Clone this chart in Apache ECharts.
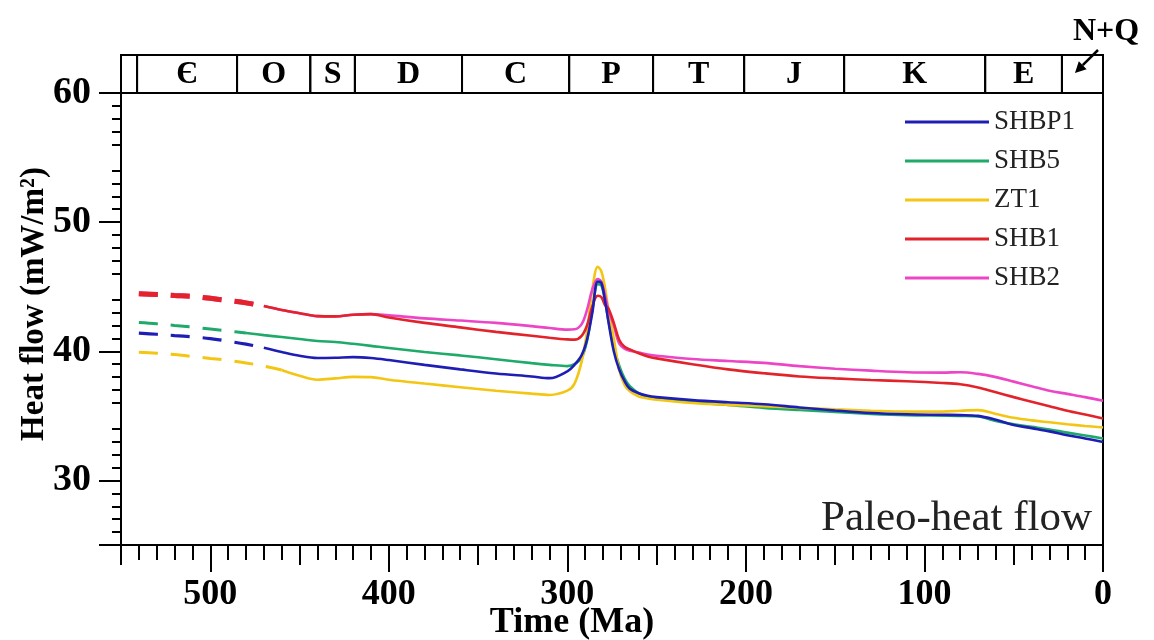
<!DOCTYPE html>
<html><head><meta charset="utf-8">
<script src="https://cdn.jsdelivr.net/npm/echarts@6/dist/echarts.min.js"></script>
<style>html,body{margin:0;padding:0;background:#fff}#c{width:1154px;height:640px}</style>
</head><body><div id="c"></div>
<script>
// ---- data ----
const ages = [540,530,520,510,500,490,480,470,460,450,440,430,420,410,400,380,360,340,320,310,300,296,292,289,286,283,281,279,277,274,271,268,265,260,255,250,230,210,190,170,150,130,110,90,80,70,60,50,40,30,20,10,0];
const shbp1 = [41.4,41.32,41.22,41.12,40.98,40.78,40.55,40.28,39.95,39.65,39.48,39.5,39.55,39.48,39.32,38.95,38.6,38.28,38.05,37.92,38.45,38.95,39.7,40.9,43.0,45.4,45.3,44.0,42.3,40.0,38.6,37.7,37.1,36.75,36.55,36.45,36.22,36.05,35.9,35.65,35.42,35.22,35.12,35.08,35.06,35.0,34.7,34.3,34.05,33.8,33.5,33.25,32.98];
const shb5 = [42.23,42.13,42.0,41.87,41.72,41.57,41.42,41.25,41.1,40.95,40.8,40.72,40.58,40.42,40.25,39.95,39.68,39.38,39.08,38.95,38.85,39.0,39.5,40.8,43.2,45.2,45.1,44.0,42.4,40.3,38.9,37.9,37.3,36.75,36.48,36.35,36.05,35.85,35.62,35.45,35.3,35.15,35.05,35.02,35.0,34.95,34.6,34.35,34.15,33.95,33.7,33.48,33.25];
const zt1 = [39.92,39.85,39.75,39.6,39.45,39.3,39.1,38.85,38.55,38.1,37.8,37.9,38.02,38.0,37.8,37.5,37.22,36.95,36.72,36.62,36.95,37.5,39.2,41.5,44.8,46.55,46.2,45.0,43.2,41.0,38.6,37.4,36.9,36.5,36.35,36.25,36.0,35.85,35.75,35.62,35.5,35.4,35.33,35.33,35.4,35.44,35.15,34.85,34.65,34.5,34.35,34.22,34.1];
const shb1 = [44.46,44.4,44.32,44.25,44.1,43.93,43.75,43.5,43.2,42.95,42.72,42.7,42.83,42.88,42.62,42.2,41.85,41.5,41.2,41.05,40.92,40.9,41.2,42.0,43.5,44.3,44.2,43.6,43.3,42.2,40.9,40.35,40.15,39.85,39.6,39.45,39.0,38.6,38.3,38.05,37.9,37.78,37.68,37.55,37.45,37.2,36.82,36.45,36.1,35.75,35.4,35.1,34.8];
const shb2 = [44.46,44.4,44.32,44.25,44.1,43.93,43.75,43.5,43.2,42.95,42.72,42.7,42.83,42.88,42.78,42.55,42.38,42.2,41.95,41.8,41.68,41.7,42.1,43.2,44.8,45.6,45.4,44.4,43.2,42.0,40.6,40.2,40.05,39.9,39.75,39.65,39.4,39.25,39.1,38.85,38.65,38.5,38.38,38.35,38.38,38.25,38.0,37.65,37.3,36.95,36.7,36.45,36.17];
const seriesNames = ['SHBP1','SHB5','ZT1','SHB1','SHB2'];
const dashedUntil = {SHBP1:470, SHB5:480, ZT1:460, SHB1:470, SHB2:470};
const periodBounds = [550,541,485,444,419,359,299,252,201,145,66,23,0];
const periodLabels = ['','Є','O','S','D','C','P','T','J','K','E','N+Q'];
const xMajorTicks = [0,100,200,300,400,500];
const xMidTicks = [50,150,250,350,450,550];
const yTickValues = [25,30,40,50,60];
const yLabelValues = [30,40,50,60];

// ---- styles ----
const colorOf = {SHBP1:'#1e1eb4', SHB5:'#1faa6a', ZT1:'#f3c614', SHB1:'#e3232b', SHB2:'#ec45c6'};
const dashWidthOf = {SHBP1:3.2, SHB5:3, ZT1:3, SHB1:5, SHB2:5};
const valuesOf = {SHBP1:shbp1, SHB5:shb5, ZT1:zt1, SHB1:shb1, SHB2:shb2};
const drawOrder = ['SHB5','ZT1','SHB2','SHB1','SHBP1'];
const serif = '"Liberation Serif","Times New Roman",serif';

const series = [];
drawOrder.forEach(n => {
  const cut = dashedUntil[n];
  const vals = valuesOf[n];
  series.push({
    name: n, type: 'line', xAxisIndex: 0, yAxisIndex: 0, smooth: 0.35,
    symbol: 'none', showSymbol: false, z: 3,
    lineStyle: {color: colorOf[n], width: 2.6},
    itemStyle: {color: colorOf[n]},
    data: ages.map((a, i) => [a, vals[i]]).filter(p => p[0] <= cut)
  });
});
drawOrder.forEach(n => {
  const cut = dashedUntil[n];
  const vals = valuesOf[n];
  series.push({
    name: n, type: 'line', xAxisIndex: 0, yAxisIndex: 0, smooth: 0.35,
    symbol: 'none', showSymbol: false, z: 3,
    lineStyle: {color: colorOf[n], width: dashWidthOf[n], type: [19, 13]},
    itemStyle: {color: colorOf[n]},
    data: ages.map((a, i) => [a, vals[i]]).filter(p => p[0] >= cut)
  });
});

series.push({
  type: 'custom', xAxisIndex: 2, yAxisIndex: 1, clip: false, silent: true,
  data: periodLabels.map((l, i) => [periodBounds[i], periodBounds[i + 1]]),
  encode: {x: [0, 1]},
  renderItem: function (params, api) {
    const p0 = api.coord([api.value(0), 1]);
    const p1 = api.coord([api.value(1), 0]);
    const x = Math.min(p0[0], p1[0]), w = Math.abs(p1[0] - p0[0]);
    const y = Math.min(p0[1], p1[1]), h = Math.abs(p1[1] - p0[1]);
    const label = periodLabels[params.dataIndex];
    const children = [{type: 'rect', shape: {x: x, y: y, width: w, height: h},
      style: {fill: 'none', stroke: '#000', lineWidth: 2}}];
    if (params.dataIndex === periodLabels.length - 1) {
      children.push({type: 'text', style: {text: label, x: x + w + 3, y: y - 23, align: 'center', verticalAlign: 'middle',
        fontSize: 32, fontWeight: 'bold', fontFamily: serif, fill: '#000'}});
      const tx = x + w - 5, ty = y - 5, hx = x + 13, hy = y + 18;
      const dx = hx - tx, dy = hy - ty, L = Math.sqrt(dx * dx + dy * dy);
      const ux = dx / L, uy = dy / L;
      const bx = hx - ux * 11, by = hy - uy * 11;
      children.push({type: 'line', shape: {x1: tx, y1: ty, x2: bx, y2: by}, style: {stroke: '#000', lineWidth: 2.5}});
      children.push({type: 'polygon', shape: {points: [[hx, hy], [bx - uy * 5.5, by + ux * 5.5], [bx + uy * 5.5, by - ux * 5.5]]},
        style: {fill: '#000'}});
    } else if (label) {
      children.push({type: 'text', style: {text: label, x: x + w / 2, y: y + h / 2 + 1, align: 'center', verticalAlign: 'middle',
        fontSize: 32, fontWeight: 'bold', fontFamily: serif, fill: '#000'}});
    }
    return {type: 'group', children: children};
  }
});

const chart = echarts.init(document.getElementById('c'), null, {renderer: 'canvas'});
chart.setOption({
  animation: false,
  backgroundColor: '#fff',
  grid: [
    {left: 121, right: 51, top: 93, bottom: 95, show: true, borderColor: '#000', borderWidth: 2, backgroundColor: 'transparent', containLabel: false, outerBoundsMode: 'none'},
    {left: 121, right: 51, top: 55, height: 38, containLabel: false, outerBoundsMode: 'none'}
  ],
  xAxis: [
    {type: 'value', gridIndex: 0, min: 0, max: 550, interval: 50, inverse: true, position: 'bottom',
      axisLine: {show: true, onZero: false, lineStyle: {color: '#000', width: 2}},
      axisTick: {show: true, customValues: xMajorTicks, length: 27, lineStyle: {color: '#000', width: 2}},
      minorTick: {show: true, splitNumber: 5, length: 15, lineStyle: {color: '#000', width: 2}},
      axisLabel: {customValues: xMajorTicks, margin: 32, color: '#000', fontSize: 36, fontWeight: 'bold', fontFamily: serif},
      splitLine: {show: false}, minorSplitLine: {show: false},
      name: 'Time (Ma)', nameLocation: 'middle', nameGap: 60, nameMoveOverlap: false,
      nameTextStyle: {color: '#000', fontSize: 36, fontWeight: 'bold', fontFamily: serif, padding: [0, 80, 0, 0]}},
    {type: 'value', gridIndex: 0, min: 0, max: 550, interval: 50, inverse: true, position: 'bottom',
      axisLine: {show: false, onZero: false},
      axisTick: {show: true, customValues: xMidTicks, length: 20, lineStyle: {color: '#000', width: 2}},
      axisLabel: {show: false}, splitLine: {show: false}},
    {type: 'value', gridIndex: 1, min: 0, max: 550, inverse: true, show: false}
  ],
  yAxis: [
    {type: 'value', gridIndex: 0, min: 25, max: 60, interval: 5, position: 'left',
      axisLine: {show: true, onZero: false, lineStyle: {color: '#000', width: 2}},
      axisTick: {show: true, customValues: yTickValues, length: 22, lineStyle: {color: '#000', width: 2}},
      minorTick: {show: true, splitNumber: 5, length: 9, lineStyle: {color: '#000', width: 2}},
      axisLabel: {customValues: yLabelValues, margin: 30, color: '#000', fontSize: 38, fontWeight: 'bold', fontFamily: serif},
      splitLine: {show: false}, minorSplitLine: {show: false},
      name: 'Heat flow (mW/m²)', nameLocation: 'middle', nameRotate: 90, nameGap: 70, nameMoveOverlap: false,
      nameTextStyle: {color: '#000', fontSize: 33, fontWeight: 'bold', fontFamily: serif, padding: [0, 0, 0, 30]}},
    {type: 'value', gridIndex: 1, min: 0, max: 1, show: false}
  ],
  legend: {
    data: seriesNames, orient: 'vertical', left: 900, top: 103,
    icon: 'rect', itemWidth: 84, itemHeight: 3, itemGap: 11,
    textStyle: {color: '#222', fontSize: 27, fontFamily: serif, lineHeight: 28}
  },
  graphic: [
    {type: 'text', right: 62, top: 497, silent: true,
      style: {text: 'Paleo-heat flow', fontSize: 43, fontFamily: serif, fill: '#222'}}
  ],
  series: series
});
</script>
</body></html>
